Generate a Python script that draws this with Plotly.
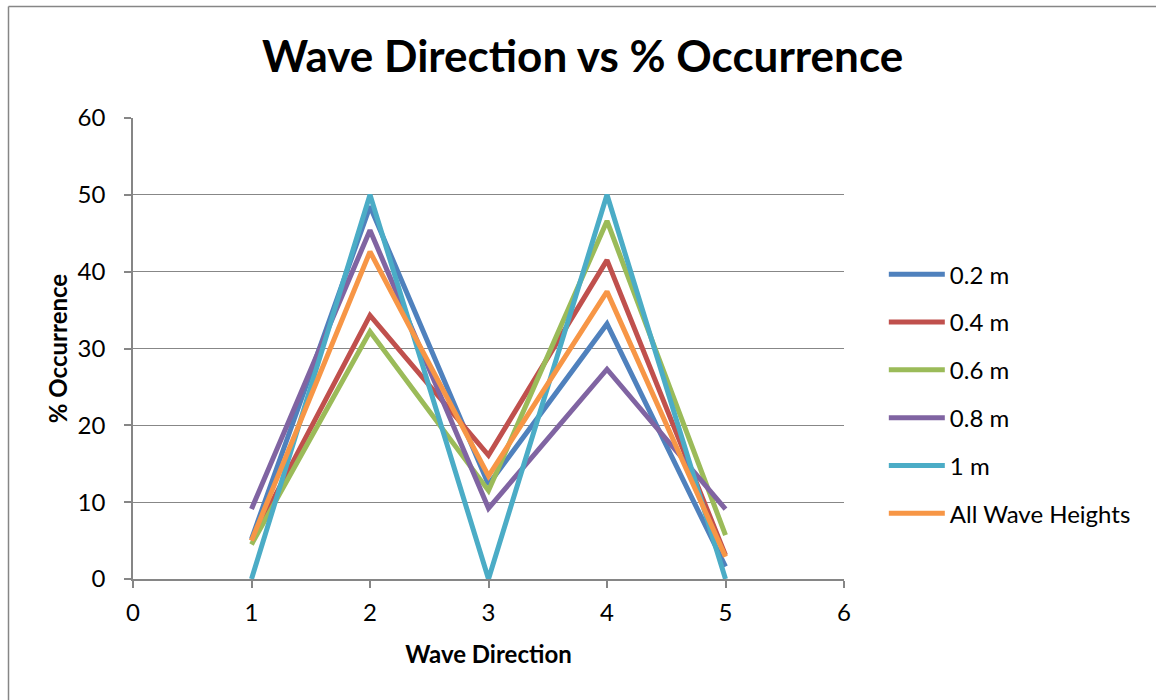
import plotly.graph_objects as go

directions = [1, 2, 3, 4, 5]
series_names = ["0.2 m", "0.4 m", "0.6 m", "0.8 m", "1 m", "All Wave Heights"]
s_02 = [5.2, 48.5, 12.3, 33.2, 1.6]
s_04 = [5.0, 34.3, 16.1, 41.5, 3.1]
s_06 = [4.5, 32.2, 11.5, 46.6, 5.7]
s_08 = [9.1, 45.4, 9.2, 27.3, 9.1]
s_1 = [0.0, 50.0, 0.0, 50.0, 0.0]
s_all = [5.0, 42.6, 13.4, 37.4, 2.9]
colors = ["#4F81BD", "#C0504D", "#9BBB59", "#8064A2", "#4BACC6", "#F79646"]
x_ticks = [0, 1, 2, 3, 4, 5, 6]
y_ticks = [0, 10, 20, 30, 40, 50, 60]

FONT = "Lato"
fig = go.Figure()
for i, (name, vals) in enumerate(zip(series_names, [s_02, s_04, s_06, s_08, s_1, s_all])):
    fig.add_trace(go.Scatter(x=directions, y=vals, name=name, mode="lines",
                             line=dict(color=colors[i], width=5),
                             legendgroup=f"g{i}"))

pw = 1156 - 133 - 312
ph = 700 - 118 - 121
bx0 = (8.5 - 133) / pw
by1 = 1 + (118 - 6.5) / ph

fig.update_layout(
    width=1156, height=700,
    margin=dict(l=133, r=312, t=118, b=121),
    paper_bgcolor="white", plot_bgcolor="white",
    font=dict(family=FONT, color="black", size=24),
    title=dict(text="<b>Wave Direction vs % Occurrence</b>", x=0.504, xanchor="center",
               y=0.919, yanchor="middle", font=dict(size=44, family=FONT, color="black")),
    legend=dict(x=1.056, xref="paper", y=0.709, yanchor="top", font=dict(size=24, family=FONT),
                tracegroupgap=13.6, itemwidth=56, bgcolor="rgba(0,0,0,0)"),
    showlegend=True,
    shapes=[dict(type="line", xref="paper", yref="paper", x0=bx0, x1=bx0, y0=-1, y1=by1,
                 line=dict(color="#868686", width=1.5)),
            dict(type="line", xref="paper", yref="paper", x0=bx0, x1=2, y0=by1, y1=by1,
                 line=dict(color="#868686", width=1.5))],
)

fig.update_xaxes(range=[0, 6], tickvals=x_ticks, showgrid=False, showline=True,
                 linecolor="#868686", linewidth=1.5, ticks="outside", ticklen=7,
                 tickcolor="#868686", tickwidth=1.5, zeroline=False, ticklabelstandoff=4,
                 title=dict(text="<b>Wave Direction</b>", font=dict(size=24, family=FONT), standoff=22),
                 tickfont=dict(size=24, family=FONT))
fig.update_yaxes(range=[0, 60], tickvals=y_ticks, showgrid=True, gridcolor="#878787",
                 gridwidth=1, showline=True, linecolor="#868686", linewidth=1.5,
                 ticks="outside", ticklen=7, tickcolor="#868686", tickwidth=1.5, zeroline=False,
                 ticklabelstandoff=14,
                 title=dict(text="<b>% Occurrence</b>", font=dict(size=24, family=FONT), standoff=3),
                 tickfont=dict(size=24, family=FONT))

fig.write_html("out.html")
